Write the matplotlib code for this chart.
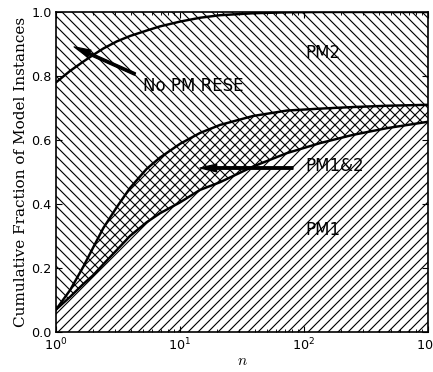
import matplotlib
matplotlib.use("Agg")
import matplotlib.pyplot as plt
import numpy as np

# data
n_vals = [1, 1.3, 1.66, 2.0, 2.41, 3.09, 3.95, 5.39, 6.89, 10, 14.5, 21, 38.8, 72.8, 134, 248, 466, 1000]
pm1 = [0.07, 0.110, 0.150, 0.178, 0.212, 0.256, 0.300, 0.343, 0.371, 0.405, 0.444, 0.468,
       0.517, 0.559, 0.590, 0.616, 0.637, 0.657]
pm12 = [0.07, 0.131, 0.204, 0.265, 0.325, 0.390, 0.450, 0.510, 0.545, 0.588, 0.622, 0.647,
        0.675, 0.692, 0.698, 0.703, 0.707, 0.710]
pm2 = [0.78, 0.816, 0.845, 0.866, 0.886, 0.908, 0.925, 0.942, 0.955, 0.970, 0.982, 0.990,
       0.996, 0.999, 1.0, 1.0, 1.0, 1.0]

x_ticks = [1, 10, 100, 1000]
y_ticks = [0.0, 0.2, 0.4, 0.6, 0.8, 1.0]

DPI = 90
S = 80.0 / DPI  # keep pixel sizes as designed at 80 dpi
plt.rcParams['hatch.linewidth'] = 0.9
plt.rcParams['mathtext.fontset'] = 'cm'
fig = plt.figure(figsize=(433 / DPI, 372 / DPI), dpi=DPI)
ax = fig.add_axes([56 / 433, 40 / 372, 372 / 433, 320 / 372])

x = np.array(n_vals)
ax.fill_between(x, 0, pm12, facecolor='white', edgecolor='black', hatch='///', linewidth=0)
ax.fill_between(x, pm1, 1.0, facecolor='none', edgecolor='black', hatch='\\\\\\', linewidth=0)

for c in (pm1, pm12, pm2):
    ax.plot(x, c, color='black', lw=2.2 * S)

ax.set_xscale('log')
ax.set_xlim(1, 1000)
ax.set_ylim(0, 1)
ax.set_xticks(x_ticks)
ax.set_yticks(y_ticks)
ax.set_yticklabels(['%.1f' % v for v in y_ticks])
ax.tick_params(which='both', direction='in', top=True, right=True, labelsize=11.5 * S)
ax.tick_params(which='major', length=5 * S, width=1 * S, pad=4 * S)
ax.tick_params(which='minor', length=2.5 * S, width=0.8 * S)
for s in ax.spines.values():
    s.set_linewidth(1.5 * S)

ax.set_ylabel('Cumulative Fraction of Model Instances', family='DejaVu Serif', fontsize=13.7 * S)
ax.yaxis.set_label_coords(-0.075, 0.5)
ax.set_xlabel('$n$', fontsize=14 * S, labelpad=0)

arrow = dict(facecolor='black', edgecolor='black', width=2.3 * S, headwidth=7 * S,
             headlength=15 * S, shrink=0.0)
ax.annotate('', xy=(1.40, 0.891), xytext=(4.34, 0.806), arrowprops=arrow)
ax.annotate('', xy=(14.5, 0.5125), xytext=(81.5, 0.5125), arrowprops=arrow)
fs = 15 * S
ax.text(5.03, 0.770, 'No PM RESE', fontsize=fs, va='center', ha='left')
ax.text(101.8, 0.519, 'PM1&2', fontsize=fs, va='center', ha='left')
ax.text(102, 0.872, 'PM2', fontsize=fs, va='center', ha='left')
ax.text(102, 0.319, 'PM1', fontsize=fs, va='center', ha='left')

fig.savefig('out.png', dpi=DPI)
